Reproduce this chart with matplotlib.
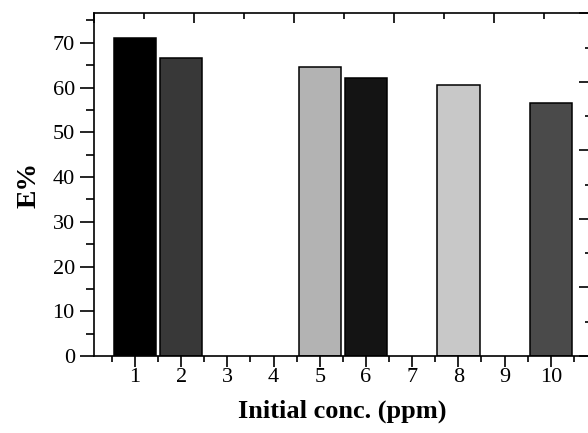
import numpy as np
import matplotlib
matplotlib.use("Agg")
from matplotlib import pyplot as plt
from matplotlib.ticker import MultipleLocator

# data
conc = [1, 2, 3, 4, 5, 6, 7, 8, 9, 10]
efficiency = [71.0, 66.7, 0, 0, 64.6, 62.1, 0, 60.6, 0, 56.5]
bar_colors = ["#000000", "#383838", "#ffffff", "#ffffff", "#b3b3b3",
              "#141414", "#ffffff", "#c8c8c8", "#ffffff", "#4a4a4a"]
xtick_labels = [str(c) for c in conc]

plt.rcParams["font.family"] = ["Liberation Serif", "DejaVu Serif"]

fig = plt.figure(figsize=(5.88, 4.33), dpi=100)
pos = [94.3 / 588, 77 / 433, (591 - 94.3) / 588, (356 - 13.3) / 433]
ax = fig.add_axes(pos)

heights = [v if v > 0 else np.nan for v in efficiency]
ax.bar(conc, heights, width=0.92, color=bar_colors, edgecolor="black", linewidth=1.1)

ax.set_xlim(0.12, 10.87)
ax.set_ylim(0, 76.6)
ax.set_xticks(conc)
ax.set_xticklabels(xtick_labels)
ax.xaxis.set_minor_locator(MultipleLocator(0.5))
ax.yaxis.set_major_locator(MultipleLocator(10))
ax.yaxis.set_minor_locator(MultipleLocator(5))
ax.tick_params(axis="y", which="major", direction="out", length=10, width=1.2, labelsize=16, pad=4)
ax.tick_params(axis="y", which="minor", direction="out", length=5.5, width=1.2)
ax.tick_params(axis="x", which="major", direction="out", length=8, width=1.2, labelsize=16, pad=1)
ax.tick_params(axis="x", which="minor", direction="out", length=4, width=1.2)
for s in ax.spines.values():
    s.set_linewidth(1.2)

ax.set_xlabel("Initial conc. (ppm)", fontsize=19, fontweight="bold", labelpad=9)
ax.set_ylabel("E%", fontsize=20, fontweight="bold", labelpad=8)

# second frame layer: top and right ticks on their own scale
ax2 = fig.add_axes(pos, frameon=False)
ax2.set_xlim(0, 4.967)
ax2.set_ylim(0, 5)
ax2.xaxis.set_major_locator(MultipleLocator(1))
ax2.xaxis.set_minor_locator(MultipleLocator(0.5))
ax2.yaxis.set_major_locator(MultipleLocator(1))
ax2.yaxis.set_minor_locator(MultipleLocator(0.5))
ax2.tick_params(which="both", bottom=False, left=False, top=True, right=True,
                labelbottom=False, labelleft=False, direction="in", width=1.2)
ax2.tick_params(axis="x", which="major", length=7.5)
ax2.tick_params(axis="x", which="minor", length=4)
ax2.tick_params(axis="y", which="major", length=9)
ax2.tick_params(axis="y", which="minor", length=4.5)
ax2.patch.set_visible(False)

fig.savefig("out.png", dpi=100)
